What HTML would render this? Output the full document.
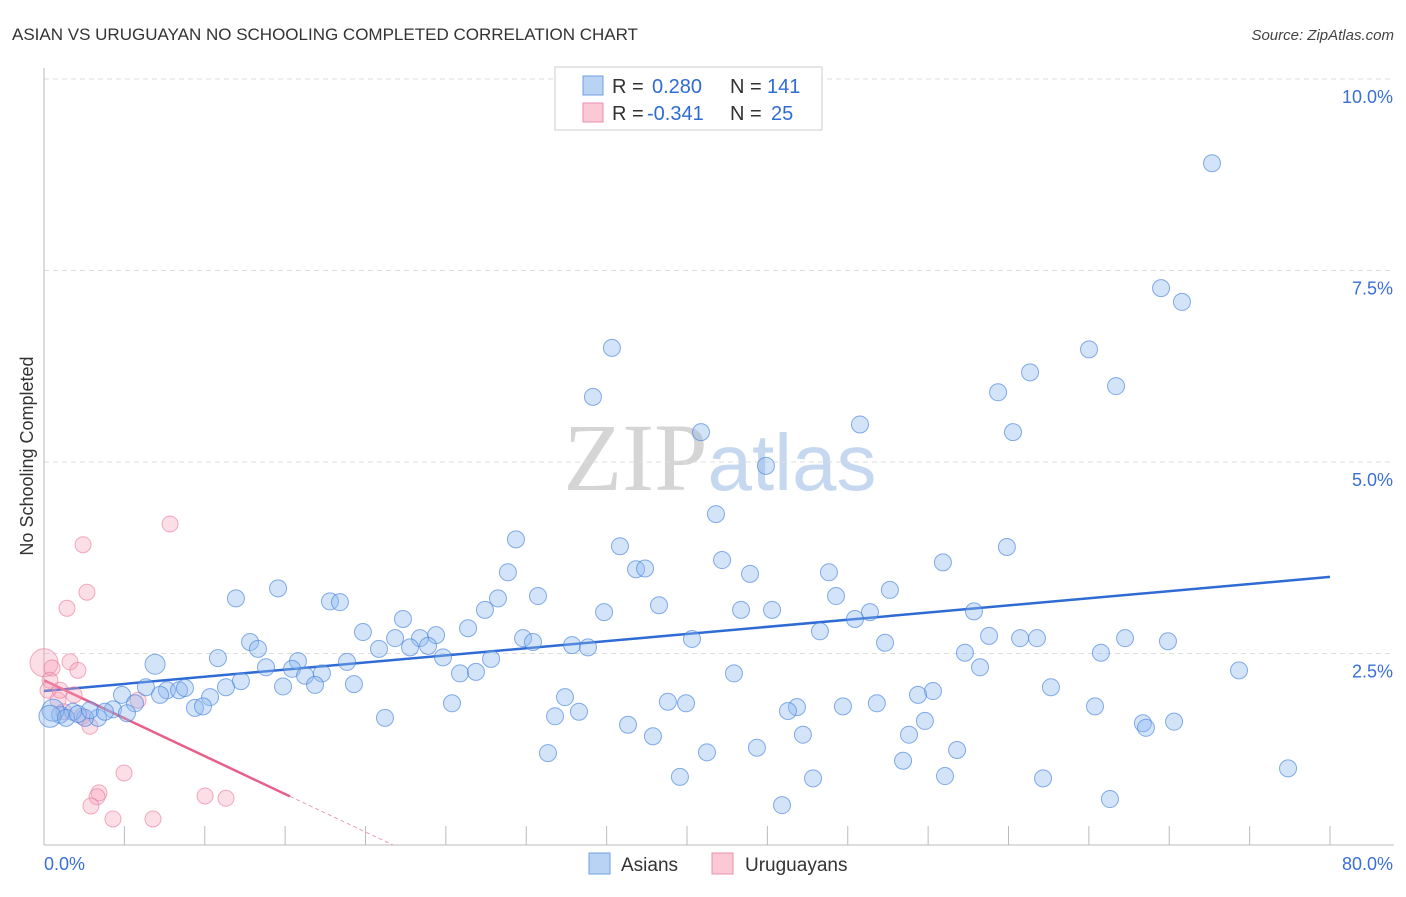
<!DOCTYPE html>
<html><head><meta charset="utf-8"><style>
body{margin:0;background:#fff;font-family:"Liberation Sans",sans-serif}
svg text{font-family:"Liberation Sans",sans-serif}
</style></head><body>
<svg id="chart" width="1406" height="892" xmlns="http://www.w3.org/2000/svg">
<text x="12" y="40" font-size="17" fill="#333">ASIAN VS URUGUAYAN NO SCHOOLING COMPLETED CORRELATION CHART</text>
<text x="1394" y="40" font-size="15" fill="#444" text-anchor="end" font-style="italic">Source: ZipAtlas.com</text>
<text x="720" y="490" font-size="96" text-anchor="middle"><tspan font-family="Liberation Serif" fill="#d5d5d5">ZIP</tspan><tspan fill="#c5d8ef" font-size="80">atlas</tspan></text>
<g id="grid"></g>
<g id="axes"></g>
<g id="lines"></g>
<g id="pts"></g>
<text transform="translate(33,456) rotate(-90)" font-size="18" fill="#333" text-anchor="middle">No Schooling Completed</text>
<g>
<rect x="555" y="67" width="267" height="63" fill="#fff" stroke="#ccc"/>
<rect x="583" y="76" width="20" height="19" fill="#b9d3f5" stroke="#6f9fe0"/>
<rect x="583" y="103" width="20" height="19" fill="#fbc8d6" stroke="#ee8fab"/>
<text x="612" y="93" font-size="20" fill="#333">R =</text><text x="652" y="93" font-size="20" fill="#2f6bd4">0.280</text>
<text x="730" y="93" font-size="20" fill="#333">N =</text><text x="767" y="93" font-size="20" fill="#2f6bd4">141</text>
<text x="612" y="120" font-size="20" fill="#333">R =</text><text x="647" y="120" font-size="20" fill="#2f6bd4">-0.341</text>
<text x="730" y="120" font-size="20" fill="#333">N =</text><text x="771" y="120" font-size="20" fill="#2f6bd4">25</text>
</g>
<g><rect x="589" y="853" width="21" height="21" fill="#b9d3f5" stroke="#6f9fe0"/><text x="621" y="871" font-size="19" fill="#333">Asians</text></g>
<g><rect x="712" y="853" width="21" height="21" fill="#fbc8d6" stroke="#ee8fab"/><text x="745" y="871" font-size="19" fill="#333">Uruguayans</text></g>
</svg>
<script>
const yTicks=[2.5,5.0,7.5,10.0];
const xTickVals=[0,10,20,30,40,50,60,70,80].map(v=>v);
const asianX=[72.66,69.49,70.79,35.33,65.01,61.34,66.69,59.35,34.15,50.76,60.28,40.87,44.91,41.80,29.36,35.83,59.90,42.18,36.83,37.39,55.92,28.86,48.83,43.92,14.56,52.62,11.94,30.73,28.24,17.79,18.41,49.27,38.26,34.84,43.36,45.29,57.85,22.33,27.43,51.38,50.45,26.38,19.84,21.84,24.39,23.39,29.80,30.42,32.85,33.84,23.89,22.77,20.84,12.82,48.27,40.31,58.79,60.72,61.77,67.25,69.92,52.32,13.31,15.80,15.43,57.29,65.75,6.91,10.82,18.85,24.82,27.81,58.23,13.81,16.24,17.29,25.88,26.87,42.92,74.34,12.25,19.28,14.87,16.86,6.34,7.65,8.40,8.77,11.32,10.33,4.85,5.66,32.41,62.64,55.30,54.37,25.38,38.81,39.94,51.81,49.70,46.84,46.28,65.38,9.39,9.89,7.22,4.29,5.16,3.36,2.55,1.80,1.00,0.56,0.37,1.37,2.11,2.86,3.79,21.21,31.79,33.28,54.80,68.36,68.55,70.30,36.33,53.81,37.88,47.21,44.35,56.80,41.24,31.35,53.44,77.39,39.56,56.05,47.84,62.15,45.91,66.31];
const asianY=[8.90,7.27,7.09,6.49,6.47,6.17,5.99,5.91,5.85,5.49,5.39,5.39,4.95,4.32,3.99,3.90,3.89,3.72,3.60,3.61,3.69,3.56,3.56,3.54,3.35,3.33,3.22,3.25,3.22,3.18,3.17,3.25,3.13,3.04,3.07,3.07,3.05,2.95,3.07,3.04,2.95,2.83,2.78,2.70,2.74,2.70,2.70,2.65,2.61,2.58,2.60,2.58,2.56,2.65,2.79,2.69,2.73,2.70,2.70,2.70,2.66,2.64,2.56,2.40,2.30,2.51,2.51,2.36,2.44,2.39,2.45,2.43,2.32,2.32,2.21,2.24,2.24,2.26,2.24,2.28,2.14,2.10,2.07,2.09,2.06,2.02,2.02,2.05,2.06,1.93,1.96,1.85,1.93,2.06,2.01,1.96,1.85,1.87,1.85,1.85,1.81,1.80,1.75,1.81,1.79,1.81,1.96,1.77,1.72,1.66,1.66,1.74,1.70,1.76,1.68,1.66,1.71,1.76,1.74,1.66,1.68,1.74,1.62,1.59,1.53,1.61,1.57,1.44,1.42,1.44,1.27,1.24,1.21,1.20,1.10,1.00,0.89,0.90,0.87,0.87,0.52,0.60];
const uruX=[0,0.50,0.37,1.62,2.11,0.25,0.87,1.87,1.24,2.36,2.86,5.85,7.84,2.43,2.67,1.43,4.98,3.42,3.30,2.92,4.29,6.78,10.02,11.32,1.0];
const uruY=[2.38,2.31,2.15,2.39,2.28,2.02,1.89,1.96,1.74,1.68,1.55,1.89,4.19,3.92,3.30,3.09,0.94,0.68,0.63,0.51,0.34,0.34,0.64,0.61,2.02];
const asianTrend=[2.01,3.50];
const uruTrend=[2.15,-0.099];
const NS="http://www.w3.org/2000/svg";
const X0=44,X1=1330,YB=845,YT=79;
const xs=v=>X0+v/80*(X1-X0);
const ys=v=>YB-v/10*(YB-YT);
function mk(t,a,p){const e=document.createElementNS(NS,t);for(const k in a)e.setAttribute(k,a[k]);document.getElementById(p).appendChild(e);return e;}
yTicks.forEach(t=>{
 const g=mk('line',{x1:X0,x2:1394,y1:ys(t),y2:ys(t),stroke:'#ddd','stroke-dasharray':'5,4'},'grid');
 
 
 const l=mk('text',{x:1393,y:ys(t)+24,'font-size':18,fill:'#3a6fd8','text-anchor':'end'},'axes');
 l.textContent=t.toFixed(1)+'%';
 
 
});
const ax=mk('line',{x1:X0,x2:1394,y1:YB,y2:YB,stroke:'#bbb'},'axes');


const ay=mk('line',{x1:X0,x2:X0,y1:68,y2:YB,stroke:'#bbb'},'axes');


xTickVals.forEach(v=>{for(const w of [v, v+5]){ if(w>80)continue;
 const t=mk('line',{x1:xs(w),x2:xs(w),y1:826,y2:YB,stroke:'#bbb'},'axes');
 
 }});
const xl0=mk('text',{x:44,y:870,'font-size':18,fill:'#3a6fd8'},'axes');xl0.textContent='0.0%';


const xl1=mk('text',{x:1393,y:870,'font-size':18,fill:'#3a6fd8','text-anchor':'end'},'axes');xl1.textContent='80.0%';


uruX.forEach((x,i)=>{
 const c=mk('circle',{cx:xs(x),cy:ys(uruY[i]),r:i===0?14:8,fill:'rgba(246,160,186,0.35)',stroke:'rgba(232,120,155,0.6)'},'pts');
 
 
});
asianX.forEach((x,i)=>{
 const c=mk('circle',{cx:xs(x),cy:ys(asianY[i]),r:(x<1&&asianY[i]<1.8)?11:(x>6.5&&x<7&&asianY[i]>2.3)?10:8.5,fill:'rgba(140,185,240,0.38)',stroke:'rgba(70,130,220,0.65)'},'pts');
 
 
});
const bl=mk('line',{x1:xs(0),y1:ys(asianTrend[0]),x2:xs(80),y2:ys(asianTrend[1]),stroke:'#2f6bd4','stroke-width':2.5},'lines');


const xe=15.3, xz=-uruTrend[0]/uruTrend[1];
const pl=mk('line',{x1:xs(0),y1:ys(uruTrend[0]),x2:xs(xe),y2:ys(uruTrend[0]+uruTrend[1]*xe),stroke:'#e8608a','stroke-width':2.5},'lines');


const pd=mk('line',{x1:xs(xe),y1:ys(uruTrend[0]+uruTrend[1]*xe),x2:xs(xz),y2:ys(0),stroke:'#e8a0b5','stroke-width':1,'stroke-dasharray':'4,3'},'lines');


</script>
</body></html>
